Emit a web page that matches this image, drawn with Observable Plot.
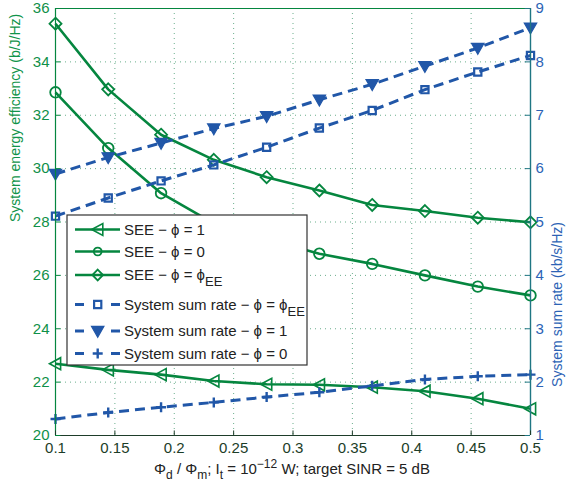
<!DOCTYPE html>
<html><head><meta charset="utf-8">
<script src="https://cdn.jsdelivr.net/npm/d3@7"></script>
<script src="https://cdn.jsdelivr.net/npm/@observablehq/plot@0.6"></script>
<style>
body{margin:0;background:#fff}
#chart{position:absolute;left:0;top:0}
</style>
</head><body><div id="chart"></div>
<script>
// ---- data ----
const ratio = [0.1, 0.1444, 0.1889, 0.2333, 0.2778, 0.3222, 0.3667, 0.4111, 0.4556, 0.5];
const seePhi1  = [22.69, 22.46, 22.28, 22.04, 21.92, 21.90, 21.81, 21.66, 21.38, 21.00];
const seePhi0  = [32.86, 30.77, 29.08, 27.95, 27.35, 26.81, 26.43, 26.00, 25.58, 25.25];
const seePhiEE = [35.43, 32.97, 31.27, 30.33, 29.68, 29.18, 28.64, 28.41, 28.16, 27.99];
const ratePhiEE = [5.11, 5.45, 5.77, 6.07, 6.40, 6.76, 7.09, 7.48, 7.81, 8.12];
const ratePhi1  = [5.90, 6.21, 6.48, 6.75, 6.98, 7.29, 7.58, 7.92, 8.26, 8.64];
const ratePhi0  = [1.31, 1.43, 1.53, 1.62, 1.72, 1.81, 1.93, 2.05, 2.11, 2.14];
const xTicks = [0.1, 0.15, 0.2, 0.25, 0.3, 0.35, 0.4, 0.45, 0.5];
const leftTicks = [20, 22, 24, 26, 28, 30, 32, 34, 36];
const rightTicks = [1, 2, 3, 4, 5, 6, 7, 8, 9];
const legendLabels = [
  ["SEE − ϕ = 1", ""],
  ["SEE − ϕ = 0", ""],
  ["SEE − ϕ = ϕ", "EE"],
  ["System sum rate − ϕ = ϕ", "EE"],
  ["System sum rate − ϕ = 1", ""],
  ["System sum rate − ϕ = 0", ""]
];
const leftLabel = "System energy efficiency (b/J/Hz)";
const rightLabel = "System sum rate (kb/s/Hz)";

// ---- styles ----
const GREEN = "#05863f";
const BLUE = "#2157a8";
const FONT = "'Liberation Sans', Arial, sans-serif";

// right axis (1..9) mapped onto left scale (20..36)
const toLeft = v => 20 + (v - 1) * 2;
const fromLeft = v => (v - 20) / 2 + 1;

// custom marker symbols
const rad = s => Math.sqrt(s / Math.PI);
const triLeft = {draw(c, s){ const r = rad(s); c.moveTo(-r, 0); c.lineTo(r*0.85, -r); c.lineTo(r*0.85, r); c.closePath(); }};
const triDown = {draw(c, s){ const r = rad(s); c.moveTo(0, r); c.lineTo(-r, -r*0.75); c.lineTo(r, -r*0.75); c.closePath(); }};
const diamond = {draw(c, s){ const r = rad(s); c.moveTo(0, -r); c.lineTo(r, 0); c.lineTo(0, r); c.lineTo(-r, 0); c.closePath(); }};
const square  = {draw(c, s){ const r = rad(s); c.rect(-r, -r, 2*r, 2*r); }};
const circle  = {draw(c, s){ const r = rad(s); c.moveTo(r, 0); c.arc(0, 0, r, 0, 2*Math.PI); }};
const plus    = {draw(c, s){ const r = rad(s); c.moveTo(-r, 0); c.lineTo(r, 0); c.moveTo(0, -r); c.lineTo(0, r); }};

const series = [
  {vals: seePhi1,  right: false, color: GREEN, dash: null,  sym: triLeft, r: 6,   fill: "none", sw: 1.6},
  {vals: seePhi0,  right: false, color: GREEN, dash: null,  sym: circle,  r: 5.3, fill: "none", sw: 1.8},
  {vals: seePhiEE, right: false, color: GREEN, dash: null,  sym: diamond, r: 6,   fill: "none", sw: 1.8},
  {vals: ratePhiEE, right: true, color: BLUE,  dash: "10,6", sym: square, r: 3.6, fill: "none", sw: 2.2},
  {vals: ratePhi1,  right: true, color: BLUE,  dash: "10,6", sym: triDown, r: 6.2, fill: BLUE, sw: 1.2},
  {vals: ratePhi0,  right: true, color: BLUE,  dash: "10,6", sym: plus,   r: 5,   fill: "none", sw: 2.4}
];

const marks = [
  Plot.gridX(xTicks, {stroke: "#5aa57f", strokeOpacity: 0.9, strokeDasharray: "1,4", strokeWidth: 1}),
  Plot.gridY(leftTicks, {stroke: "#5aa57f", strokeOpacity: 0.9, strokeDasharray: "1,4", strokeWidth: 1}),
];

series.forEach(s => {
  const data = ratio.map((x, i) => ({x, y: s.right ? toLeft(s.vals[i]) : s.vals[i]}));
  marks.push(Plot.line(data, {x: "x", y: "y", stroke: s.color, strokeWidth: s.right ? 3 : 2.6,
    strokeDasharray: s.dash, strokeLinecap: "butt"}));
  marks.push(Plot.dot(data, {x: "x", y: "y", symbol: s.sym, r: s.r, stroke: s.color, fill: s.fill, strokeWidth: s.sw}));
});

marks.push(
  // frame
  Plot.ruleY([36], {stroke: GREEN, strokeWidth: 1.2}),
  Plot.ruleY([20], {stroke: "#1e3d2a", strokeWidth: 1.2}),
  Plot.ruleX([0.1], {stroke: GREEN, strokeWidth: 1.2}),
  Plot.ruleX([0.5], {stroke: "#1f7683", strokeWidth: 1.4}),
  // inward ticks
  Plot.ruleY(leftTicks, {y: d => d, x1: 0.1, x2: 0.1045, stroke: GREEN}),
  Plot.ruleY(rightTicks.map(toLeft), {y: d => d, x1: 0.4955, x2: 0.5, stroke: "#1f7683"}),
  Plot.ruleX(xTicks, {x: d => d, y1: 20, y2: 20.17, stroke: "#1e3d2a"}),
  // axes
  Plot.axisY(leftTicks, {anchor: "left", tickSize: 0, tickPadding: 6, color: "#0f9048", label: null, fontSize: 15}),
  Plot.axisY(rightTicks.map(toLeft), {anchor: "right", tickSize: 0, tickPadding: 5, color: "#2c63b5",
    tickFormat: d => String(fromLeft(d)), label: null, fontSize: 15}),
  Plot.axisX(xTicks, {anchor: "bottom", tickSize: 0, tickPadding: 7, color: "#1c3d28", tickFormat: d => String(d),
    label: null, fontSize: 15}),
  // y axis titles
  Plot.text([leftLabel], {frameAnchor: "left", rotate: -90, dx: -40, fill: "#10944a", fontSize: 14}),
  Plot.text([rightLabel], {frameAnchor: "right", rotate: -90, dx: 27, fill: "#2c63b5", fontSize: 14})
);

const plot = Plot.plot({
  width: 580, height: 487,
  marginLeft: 55, marginRight: 50, marginTop: 8, marginBottom: 52,
  x: {domain: [0.1, 0.5]},
  y: {domain: [20, 36]},
  style: {fontFamily: FONT, fontSize: "15px", background: "#fff", overflow: "visible"},
  marks
});
document.getElementById("chart").appendChild(plot);

// ---- x label with sub/superscripts ----
const svg = d3.select(plot);
const xl = svg.append("text").attr("x", 292).attr("y", 474).attr("text-anchor", "middle")
  .attr("font-family", FONT).attr("font-size", 15).attr("fill", "#222");
const parts = [["Φ", 0], ["d", 5], [" / Φ", -5], ["m", 5], ["; I", -5], ["t", 5], [" = 10", -5], ["−12", -6], [" W; target SINR = 5 dB", 6]];
parts.forEach(([t, dy], i) => {
  const small = (i === 1 || i === 3 || i === 5 || i === 7);
  xl.append("tspan").attr("dy", dy).attr("font-size", small ? 12 : 15).text(t);
});

// ---- legend ----
const lg = svg.append("g").attr("font-family", FONT).attr("font-size", 15).attr("text-anchor", "start");
lg.append("rect").attr("x", 67).attr("y", 215).attr("width", 240).attr("height", 150)
  .attr("fill", "#fff").attr("stroke", "#333").attr("stroke-width", 1.2);
const rowY = [229.5, 251.5, 275, 304.5, 331, 353.5];
series.forEach((s, i) => {
  const y = rowY[i];
  if (s.dash) {
    lg.append("line").attr("x1", 75).attr("x2", 84).attr("y1", y).attr("y2", y).attr("stroke", s.color).attr("stroke-width", 3);
    lg.append("line").attr("x1", 111).attr("x2", 120).attr("y1", y).attr("y2", y).attr("stroke", s.color).attr("stroke-width", 3);
  } else {
    lg.append("line").attr("x1", 75).attr("x2", 120).attr("y1", y).attr("y2", y).attr("stroke", s.color).attr("stroke-width", 2.6);
  }
  const sz = s.r * s.r * Math.PI * (i === 1 ? 0.55 : i === 2 ? 0.8 : 1);
  lg.append("path").attr("transform", `translate(97.7,${y})`)
    .attr("d", d3.symbol(s.sym, sz)())
    .attr("fill", s.fill).attr("stroke", s.color).attr("stroke-width", s.sw);
  const t = lg.append("text").attr("x", 124).attr("y", y).attr("dy", "0.35em").attr("fill", "#222").attr("text-anchor", "start");
  t.append("tspan").text(legendLabels[i][0]);
  if (legendLabels[i][1]) t.append("tspan").attr("dy", 6).attr("font-size", 13).text(legendLabels[i][1]);
});
</script>
</body></html>
